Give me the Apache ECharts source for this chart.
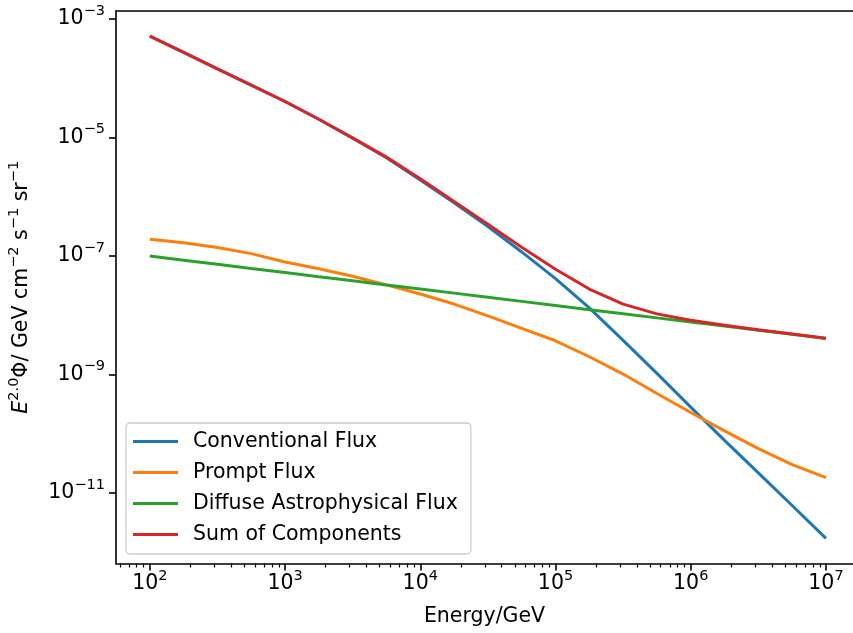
<!DOCTYPE html>
<html>
<head>
<meta charset="utf-8">
<script src="https://cdn.jsdelivr.net/npm/echarts@6/dist/echarts.min.js"></script>
<style>
  html, body { margin: 0; padding: 0; background: #ffffff; overflow: hidden; }
  #chart { width: 853px; height: 633px; }
</style>
</head>
<body>
<div id="chart"></div>
<script>
// Neutrino energy grid (GeV), quarter-decade steps from 1e2 to 1e7
const energies = [100, 177.8, 316.2, 562.3, 1000, 1778, 3162, 5623, 1e4, 1.778e4, 3.162e4,
                  5.623e4, 1e5, 1.778e5, 3.162e5, 5.623e5, 1e6, 1.778e6, 3.162e6, 5.623e6, 1e7];

// E^2 * flux (GeV cm^-2 s^-1 sr^-1) for each component
const conventionalFlux = [5.16e-4, 2.75e-4, 1.445e-4, 7.67e-5, 4.07e-5, 2.04e-5, 9.77e-6,
                          4.57e-6, 1.93e-6, 7.94e-7, 3.16e-7, 1.175e-7, 4.17e-8, 1.337e-8,
                          3.78e-9, 1.047e-9, 2.82e-10, 7.76e-11, 2.19e-11, 6.17e-12, 1.72e-12];
const promptFlux = [1.92e-7, 1.68e-7, 1.40e-7, 1.10e-7, 7.94e-8, 6.10e-8, 4.57e-8, 3.27e-8,
                    2.29e-8, 1.55e-8, 9.77e-9, 6.03e-9, 3.72e-9, 2.00e-9, 1.02e-9, 4.79e-10,
                    2.29e-10, 1.12e-10, 5.62e-11, 3.02e-11, 1.82e-11];
const astroFlux = [1.00e-7, 8.51e-8, 7.26e-8, 6.18e-8, 5.27e-8, 4.49e-8, 3.83e-8, 3.26e-8,
                   2.78e-8, 2.37e-8, 2.02e-8, 1.72e-8, 1.466e-8, 1.247e-8, 1.064e-8, 9.06e-9,
                   7.73e-9, 6.58e-9, 5.61e-9, 4.78e-9, 4.07e-9];
const totalFlux = [5.16e-4, 2.75e-4, 1.445e-4, 7.67e-5, 4.07e-5, 2.04e-5, 9.89e-6, 4.68e-6,
                   2.02e-6, 8.32e-7, 3.46e-7, 1.406e-7, 6.01e-8, 2.78e-8, 1.545e-8, 1.059e-8,
                   8.24e-9, 6.78e-9, 5.69e-9, 4.82e-9, 4.09e-9];

const seriesNames = ['Conventional Flux', 'Prompt Flux', 'Diffuse Astrophysical Flux', 'Sum of Components'];
const seriesColors = ['#1f77b4', '#ff7f0e', '#2ca02c', '#d62728'];

// Decade exponents that carry labels
const xDecades = [2, 3, 4, 5, 6, 7];
const yDecades = [-11, -9, -7, -5, -3];

// Axis extents in log10 units (the frame's right edge falls at the canvas edge)
const xLogMin = 1.75, xLogMax = 7.2;
const yLogMin = -12.189, yLogMax = -2.863;

const FONT = 'DejaVu Sans';
const BASE = 20.5;
const SUP = 14.5;
const spine = () => ({ color: '#000', width: 1.6 });

// Minor tick positions (2..9 x 10^n) inside the x range
const xMinor = [];
for (let n = 1; n <= 7; n++) {
  for (let k = 2; k <= 9; k++) {
    const v = Math.log10(k) + n;
    if (v >= xLogMin && v <= xLogMax) xMinor.push(v);
  }
}

const toLogPairs = (xs, ys) => xs.map((x, i) => [Math.log10(x), Math.log10(ys[i])]);

const supText = (exp) => String(exp).replace('-', '\u2212');
const powerLabel = (v) => '{b|10}{s|' + supText(Math.round(v)) + '}';

const richStyles = () => ({
  b: { fontFamily: FONT, fontSize: BASE, color: '#000', lineHeight: 24 },
  s: { fontFamily: FONT, fontSize: SUP, color: '#000', lineHeight: 16, padding: [0, 0, 16, 0] },
  it: { fontFamily: FONT, fontSize: BASE, color: '#000', fontStyle: 'italic', lineHeight: 24 }
});

const allSeries = [conventionalFlux, promptFlux, astroFlux, totalFlux];

const chart = echarts.init(document.getElementById('chart'), null, { renderer: 'canvas' });

chart.setOption({
  animation: false,
  backgroundColor: '#ffffff',
  grid: {
    left: 116, top: 11, right: 0, bottom: 69.5,
    containLabel: false,
    outerBoundsMode: 'none',
    show: false
  },
  legend: {
    orient: 'vertical',
    left: 126, top: 423,
    padding: [6.5, 13, 7.5, 7],
    itemGap: 7,
    itemWidth: 45, itemHeight: 3,
    icon: 'rect',
    backgroundColor: 'rgba(255,255,255,0.8)',
    borderColor: '#cccccc',
    borderWidth: 1.3,
    borderRadius: 4,
    textStyle: { fontFamily: FONT, fontSize: BASE, color: '#000', lineHeight: 24, padding: [0, 0, 0, 10] },
    data: seriesNames
  },
  xAxis: [
    {
      type: 'value',
      min: xLogMin, max: xLogMax,
      position: 'bottom',
      name: 'Energy/GeV',
      nameLocation: 'middle',
      nameGap: 43,
      nameTextStyle: { fontFamily: FONT, fontSize: BASE, color: '#000' },
      axisLine: { show: true, onZero: false, lineStyle: spine() },
      splitLine: { show: false },
      axisTick: { show: true, customValues: xDecades, length: 7, lineStyle: spine() },
      axisLabel: {
        customValues: xDecades,
        margin: 8.5,
        formatter: powerLabel,
        rich: richStyles()
      }
    },
    {
      // minor ticks along the bottom edge
      type: 'value',
      min: xLogMin, max: xLogMax,
      position: 'bottom',
      axisLine: { show: false },
      splitLine: { show: false },
      axisLabel: { show: false },
      axisTick: { show: true, customValues: xMinor, length: 4, lineStyle: { color: '#000', width: 1.2 } }
    },
    {
      // top frame edge
      type: 'value',
      min: xLogMin, max: xLogMax,
      position: 'top',
      axisLine: { show: true, onZero: false, lineStyle: spine() },
      splitLine: { show: false },
      axisLabel: { show: false },
      axisTick: { show: false }
    }
  ],
  yAxis: {
    type: 'value',
    min: yLogMin, max: yLogMax,
    position: 'left',
    name: '{it|E}{s|2.0}{b|\u03A6/ GeV cm}{s|\u22122}{b| s}{s|\u22121}{b| sr}{s|\u22121}',
    nameLocation: 'middle',
    nameRotate: 90,
    nameGap: 63,
    nameTextStyle: { rich: richStyles() },
    axisLine: { show: true, onZero: false, lineStyle: spine() },
    splitLine: { show: false },
    axisTick: { show: true, customValues: yDecades, length: 7, lineStyle: spine() },
    axisLabel: {
      customValues: yDecades,
      margin: 11,
      formatter: powerLabel,
      rich: richStyles()
    }
  },
  series: allSeries.map((vals, i) => ({
    name: seriesNames[i],
    type: 'line',
    xAxisIndex: 0,
    data: toLogPairs(energies, vals),
    showSymbol: false,
    smooth: false,
    lineStyle: { color: seriesColors[i], width: 3 },
    itemStyle: { color: seriesColors[i] },
    z: 2 + i
  }))
});
</script>
</body>
</html>
